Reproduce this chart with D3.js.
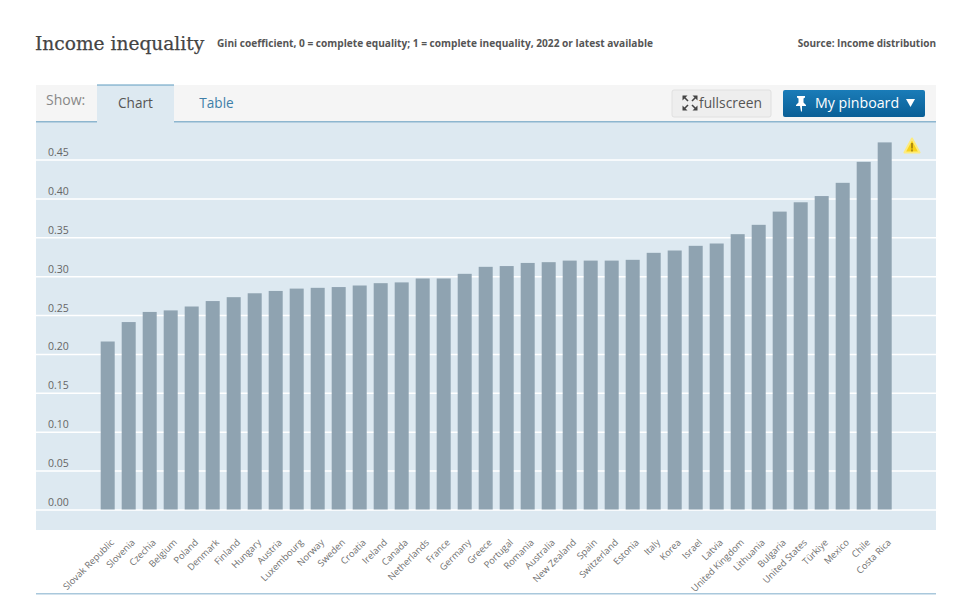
<!DOCTYPE html>
<html>
<head>
<meta charset="utf-8">
<script src="https://cdn.jsdelivr.net/npm/d3@7"></script>
<style>
  html, body { margin: 0; padding: 0; background: #fff; }
  svg { display: block; }
  text { font-family: "Open Sans", "Noto Sans", sans-serif; }
  .tick-y text { fill: #666; font-size: 10.5px; }
  .tick-x text { fill: #707070; font-size: 9.3px; }
</style>
</head>
<body>
<svg id="chart" width="972" height="608"></svg>
<script>
const countries = ['Slovak Republic', 'Slovenia', 'Czechia', 'Belgium', 'Poland', 'Denmark', 'Finland', 'Hungary',
  'Austria', 'Luxembourg', 'Norway', 'Sweden', 'Croatia', 'Ireland', 'Canada', 'Netherlands', 'France', 'Germany',
  'Greece', 'Portugal', 'Romania', 'Australia', 'New Zealand', 'Spain', 'Switzerland', 'Estonia', 'Italy', 'Korea',
  'Israel', 'Latvia', 'United Kingdom', 'Lithuania', 'Bulgaria', 'United States', 'Türkiye', 'Mexico', 'Chile', 'Costa Rica'];
const gini = [0.216, 0.241, 0.254, 0.256, 0.261, 0.268, 0.273, 0.278,
  0.281, 0.284, 0.285, 0.286, 0.288, 0.291, 0.292, 0.297, 0.297, 0.303,
  0.312, 0.313, 0.317, 0.318, 0.320, 0.320, 0.320, 0.321, 0.330, 0.333,
  0.339, 0.342, 0.354, 0.366, 0.383, 0.395, 0.403, 0.420, 0.447, 0.472];
const yTicks = [0, 0.05, 0.10, 0.15, 0.20, 0.25, 0.30, 0.35, 0.40, 0.45];

const svg = d3.select('#chart');

// header
svg.append('text').attr('x', 35).attr('y', 50)
  .style('font-family', '"DejaVu Serif", serif').style('font-size', '18.6px').attr('fill', '#444')
  .attr('stroke', '#444').attr('stroke-width', 0.25)
  .text('Income inequality');
svg.append('text').attr('x', 217).attr('y', 47)
  .style('font-size', '10.15px').style('font-weight', 700).attr('fill', '#555')
  .text('Gini coefficient, 0 = complete equality; 1 = complete inequality, 2022 or latest available');
svg.append('text').attr('x', 936).attr('y', 47).attr('text-anchor', 'end')
  .style('font-size', '10px').style('font-weight', 700).attr('fill', '#555')
  .text('Source: Income distribution');

// toolbar + panel
svg.append('rect').attr('x', 36).attr('y', 85).attr('width', 900).attr('height', 37).attr('fill', '#f5f5f5');
svg.append('rect').attr('x', 36).attr('y', 122).attr('width', 900).attr('height', 408).attr('fill', '#dde9f1');
svg.append('rect').attr('x', 36).attr('y', 121).attr('width', 900).attr('height', 1.5).attr('fill', '#8db6cf');
svg.append('rect').attr('x', 97).attr('y', 85).attr('width', 77).attr('height', 38).attr('fill', '#dde9f1');
svg.append('rect').attr('x', 97).attr('y', 84.5).attr('width', 77).attr('height', 1).attr('fill', '#5e9cc0');
svg.append('rect').attr('x', 36).attr('y', 593).attr('width', 900).attr('height', 1.5).attr('fill', '#a9c8dc');

svg.append('text').attr('x', 46).attr('y', 105).style('font-size', '14px').attr('fill', '#888').text('Show:');
svg.append('text').attr('x', 135.5).attr('y', 108).attr('text-anchor', 'middle').style('font-size', '13.6px').attr('fill', '#555').text('Chart');
svg.append('text').attr('x', 216.5).attr('y', 108).attr('text-anchor', 'middle').style('font-size', '13.6px').attr('fill', '#3f7fa8').text('Table');

// fullscreen button
svg.append('rect').attr('x', 672).attr('y', 90).attr('width', 99).attr('height', 27).attr('rx', 2)
  .attr('fill', '#eeeeee').attr('stroke', '#e0e0e0');
const fsIcon = svg.append('g').attr('transform', 'translate(690,103)').attr('stroke', '#444').attr('stroke-width', 1.6).attr('fill', '#444');
[[-1, -1], [1, -1], [1, 1], [-1, 1]].forEach(([sx, sy]) => {
  fsIcon.append('line').attr('x1', sx * 2).attr('y1', sy * 2).attr('x2', sx * 6).attr('y2', sy * 6);
  fsIcon.append('path').attr('stroke', 'none')
    .attr('d', `M${sx * 7.5},${sy * 7.5}L${sx * 2.5},${sy * 7.5}L${sx * 7.5},${sy * 2.5}Z`);
});
svg.append('text').attr('x', 699).attr('y', 107.5).style('font-size', '13.8px').attr('fill', '#555').text('fullscreen');

// pinboard button
const grad = svg.append('defs').append('linearGradient').attr('id', 'pinGrad').attr('x1', 0).attr('y1', 0).attr('x2', 0).attr('y2', 1);
grad.append('stop').attr('offset', 0).attr('stop-color', '#1a7cb8');
grad.append('stop').attr('offset', 1).attr('stop-color', '#0a5f96');
svg.append('rect').attr('x', 783).attr('y', 90).attr('width', 142).attr('height', 27).attr('rx', 2).attr('fill', 'url(#pinGrad)');
svg.append('path').attr('fill', '#fff')
  .attr('d', 'M797,96h8v1.5l-1.5,1v4l2.5,2.5v1h-4v5.5h-1l-1,-5.5h-4v-1l2.5,-2.5v-4l-1.5,-1Z');
svg.append('text').attr('x', 815).attr('y', 107.5).style('font-size', '14.2px').attr('fill', '#fff').text('My pinboard');
svg.append('path').attr('fill', '#fff').attr('d', 'M906,99h9l-4.5,8Z');

// scales
const x = d3.scaleBand().domain(countries).range([97.2, 895.2]).paddingInner(1 / 3).paddingOuter(1 / 6);
const y = d3.scaleLinear().domain([0, 0.45]).range([509.5, 159.5]);

// gridlines and y labels
const gridAxis = svg.append('g').attr('class', 'tick-y').attr('transform', 'translate(36,0)')
  .call(d3.axisLeft(y).tickValues(yTicks).tickSize(-900).tickFormat(d3.format('.2f')));
gridAxis.select('.domain').remove();
gridAxis.selectAll('.tick line').attr('stroke', '#fff').attr('stroke-width', 1.5);
gridAxis.selectAll('.tick text').attr('x', 12).attr('y', -4).attr('dy', 0).attr('text-anchor', 'start');

// bars
svg.append('g').selectAll('rect')
  .data(countries)
  .join('rect')
  .attr('x', (d) => x(d))
  .attr('y', (d, i) => y(gini[i]))
  .attr('width', x.bandwidth())
  .attr('height', (d, i) => y(0) - y(gini[i]))
  .attr('fill', '#8fa3b1');

// country labels
const xAxis = svg.append('g').attr('class', 'tick-x').attr('transform', 'translate(0,530)')
  .call(d3.axisBottom(x).tickSize(0));
xAxis.select('.domain').remove();
xAxis.selectAll('.tick text')
  .attr('text-anchor', 'end')
  .attr('dy', 0)
  .attr('y', 0)
  .attr('transform', 'translate(7,13) rotate(-45)');

// warning marker
const warn = svg.append('g').attr('transform', 'translate(912,146)');
warn.append('path').attr('d', 'M0,-7.5L7.5,6.5H-7.5Z').attr('fill', '#f9d21a').attr('stroke', '#fdeb7e').attr('stroke-width', 2).attr('stroke-linejoin', 'round');
warn.append('rect').attr('x', -1).attr('y', -3).attr('width', 2).attr('height', 5.5).attr('fill', '#b08d10');
warn.append('rect').attr('x', -1).attr('y', 3.4).attr('width', 2).attr('height', 2).attr('fill', '#b08d10');
</script>
</body>
</html>
